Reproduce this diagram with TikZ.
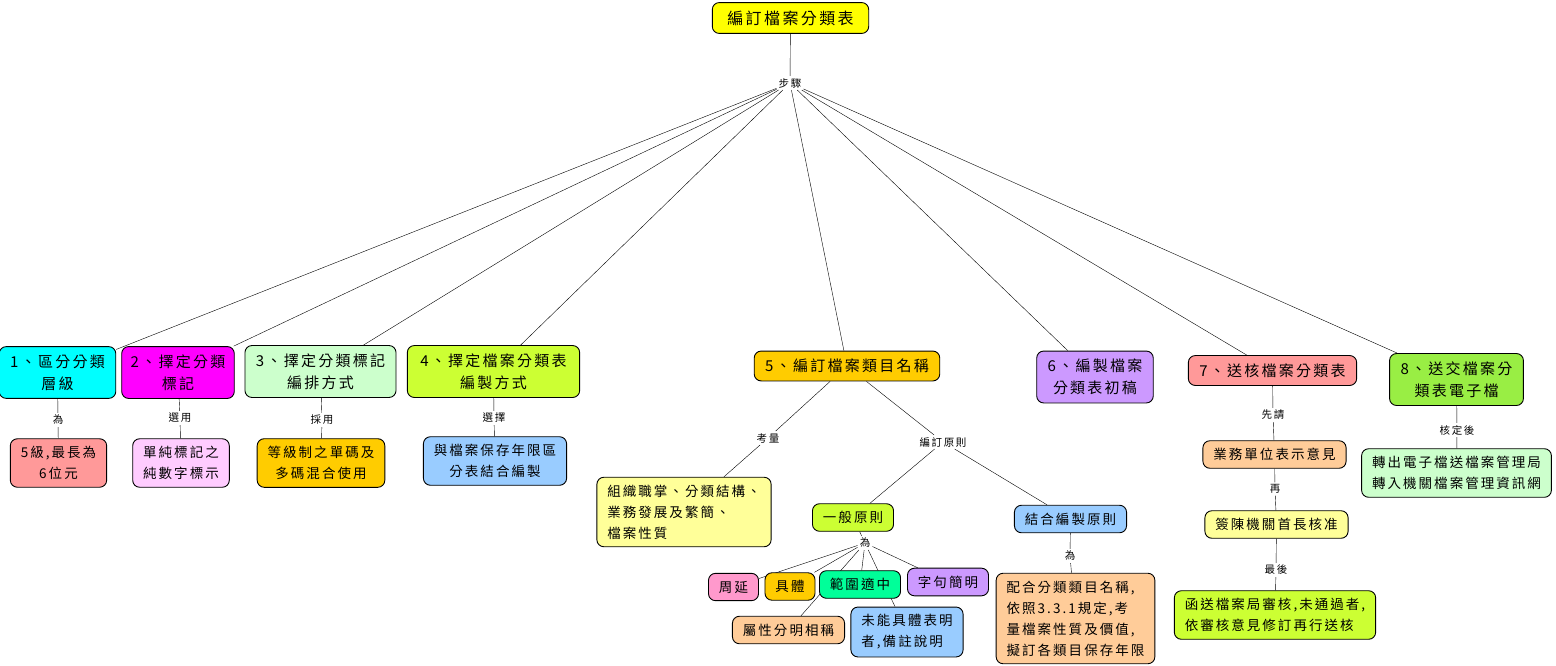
\documentclass[tikz,border=0pt]{standalone}
\usepackage{fontspec}
\setmainfont{Noto Sans CJK TC}[LetterSpace=15]
\usetikzlibrary{backgrounds}
\definecolor{rootyellow}{HTML}{FFFF00}
\definecolor{cyanbox}{HTML}{00FFFF}
\definecolor{magbox}{HTML}{FF00FF}
\definecolor{mintbox}{HTML}{CCFFCC}
\definecolor{limebox}{HTML}{CCFF33}
\definecolor{orangebox}{HTML}{FFCC00}
\definecolor{lilacbox}{HTML}{CC99FF}
\definecolor{redbox}{HTML}{FF9999}
\definecolor{greenbox}{HTML}{99EE44}
\definecolor{pinkbox}{HTML}{FFCCFF}
\definecolor{bluebox}{HTML}{99CCFF}
\definecolor{paleyellow}{HTML}{FFFF99}
\definecolor{peachbox}{HTML}{FFCC99}
\definecolor{rosebox}{HTML}{FF99CC}
\definecolor{jadebox}{HTML}{00FF99}
\begin{document}
\begin{tikzpicture}[x=1pt, y=-1pt,
    box/.style={draw, rounded corners=7pt, line width=0.9pt, inner xsep=11pt, inner ysep=8pt, align=center, font=\fontsize{15}{22}\selectfont},
    sub/.style={box, inner xsep=10.5pt, inner ysep=7.5pt, font=\fontsize{13.5}{21}\selectfont},
    lbl/.style={inner sep=2pt, font=\fontsize{10.5}{12}\selectfont},
    link/.style={line width=0.7pt}]
  \useasboundingbox (0,0) rectangle (1556,665);
  % root and steps
  \node [box, fill=rootyellow, inner xsep=15pt, font=\fontsize{16}{20}\selectfont] (root) at (790.5,18) {編訂檔案分類表};
  \node [lbl] (step) at (790,83) {步驟};
  \node [box, fill=cyanbox] (b1) at (57.5,372.5) {1、區分分類\\層級};
  \node [box, fill=magbox, inner xsep=9pt] (b2) at (178,372.5) {2、擇定分類\\標記};
  \node [box, fill=mintbox] (b3) at (320.5,371.5) {3、擇定分類標記\\編排方式};
  \node [box, fill=limebox, inner xsep=13pt] (b4) at (493.5,371.5) {4、擇定檔案分類表\\編製方式};
  \node [box, fill=orangebox] (b5) at (847,366) {5、編訂檔案類目名稱};
  \node [box, fill=lilacbox] (b6) at (1095,377) {6、編製檔案\\分類表初稿};
  \node [box, fill=redbox] (b7) at (1272.5,370.5) {7、送核檔案分類表};
  \node [box, fill=greenbox] (b8) at (1456.5,379.5) {8、送交檔案分\\類表電子檔};
  % steps 1-4
  \node [lbl] (l1) at (58,420) {為};
  \node [sub, fill=redbox] (c1) at (58.5,463) {5級,最長為\\6位元};
  \node [lbl] (l2) at (180,418) {選用};
  \node [sub, fill=pinkbox] (c2) at (181,463) {單純標記之\\純數字標示};
  \node [lbl] (l3) at (322,420) {採用};
  \node [sub, fill=orangebox] (c3) at (321,463) {等級制之單碼及\\多碼混合使用};
  \node [lbl] (l4) at (494,418) {選擇};
  \node [sub, fill=bluebox] (c4) at (495,461) {與檔案保存年限區\\分表結合編製};
  % step 5
  \node [lbl] (consider) at (768,438) {考量};
  \node [sub, fill=paleyellow, align=left] (scope5) at (684,512) {組織職掌、分類結構、\\業務發展及繁簡、\\檔案性質};
  \node [lbl] (rules) at (943,442) {編訂原則};
  \node [sub, fill=limebox] (general) at (853,517.5) {一般原則};
  \node [sub, fill=bluebox] (combine) at (1070.5,519) {結合編製原則};
  \node [lbl] (gis) at (865,543) {為};
  \node [lbl] (cis) at (1070,556) {為};
  \node [sub, fill=peachbox, align=left] (retain) at (1075.5,618.5) {配合分類類目名稱,\\依照3.3.1規定,考\\量檔案性質及價值,\\擬訂各類目保存年限};
  \node [sub, fill=rosebox] (g1) at (733.5,587) {周延};
  \node [sub, fill=orangebox] (g2) at (790,586.5) {具體};
  \node [sub, fill=jadebox] (g3) at (860,584.5) {範圍適中};
  \node [sub, fill=lilacbox] (g4) at (948,582) {字句簡明};
  \node [sub, fill=peachbox] (g5) at (788.5,630) {屬性分明相稱};
  \node [sub, fill=bluebox, align=left] (g6) at (907,632) {未能具體表明\\者,備註說明};
  % step 7
  \node [lbl] (first) at (1273,415) {先請};
  \node [sub, fill=peachbox] (opinion) at (1274.5,454.5) {業務單位表示意見};
  \node [lbl] (then) at (1275,489) {再};
  \node [sub, fill=paleyellow] (approve) at (1276.5,524.5) {簽陳機關首長核准};
  \node [lbl] (last) at (1276,570) {最後};
  \node [sub, fill=limebox, align=left] (send) at (1275,615) {函送檔案局審核,未通過者,\\依審核意見修訂再行送核};
  % step 8
  \node [lbl] (after) at (1457,430) {核定後};
  \node [sub, fill=mintbox] (export) at (1456.5,473) {轉出電子檔送檔案管理局\\轉入機關檔案管理資訊網};
  \begin{scope}[on background layer, link]
    \draw (root) -- (step);
    \foreach \b in {b1,b2,b3,b4,b5,b6,b7,b8}
      \draw (step) -- (\b);
    \draw (b1) -- (l1) -- (c1);
    \draw (b2) -- (l2) -- (c2);
    \draw (b3) -- (l3) -- (c3);
    \draw (b4) -- (l4) -- (c4);
    \draw (b5) -- (consider) -- (scope5);
    \draw (b5) -- (rules);
    \draw (rules) -- (general);
    \draw (rules) -- (combine);
    \draw (general) -- (gis);
    \draw (combine) -- (cis) -- (retain);
    \foreach \g in {g1,g2,g3,g4,g5,g6}
      \draw (gis) -- (\g);
    \draw (b7) -- (first) -- (opinion) -- (then) -- (approve) -- (last) -- (send);
    \draw (b8) -- (after) -- (export);
  \end{scope}
\end{tikzpicture}
\end{document}
